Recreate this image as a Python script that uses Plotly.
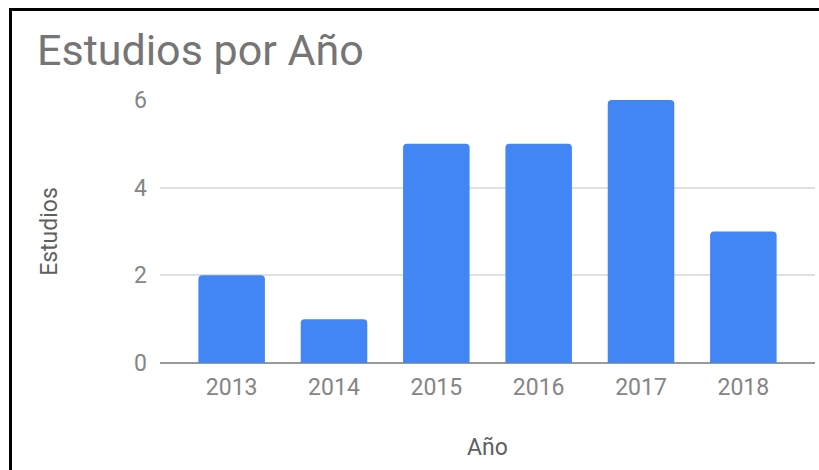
import plotly.graph_objects as go

years = ["2013", "2014", "2015", "2016", "2017", "2018"]
estudios = [2, 1, 5, 5, 6, 3]
y_ticks = [0, 2, 4, 6]

fig = go.Figure()
fig.add_trace(go.Bar(
    x=years, y=estudios,
    marker=dict(color="#4285F4", cornerradius=4, line=dict(width=0)),
    width=0.65,
))

font = "Roboto, Arial, sans-serif"
fig.update_layout(
    width=819, height=470,
    margin=dict(l=160, r=4, t=100, b=107),
    paper_bgcolor="white", plot_bgcolor="white",
    showlegend=False,
    font=dict(family=font, color="#808080"),
    title=dict(text="Estudios por Año", x=37/819, xanchor="left", xref="container",
               y=1 - 50/470, yanchor="middle", yref="container",
               font=dict(size=43, color="#757575", family=font)),
    xaxis=dict(type="category", range=[-0.7, 5.7], showgrid=False,
               showline=False, zeroline=False, ticks="", ticklabelstandoff=8,
               tickfont=dict(size=23, color="#858585"),
               title=dict(text="Año", font=dict(size=23, color="#5f5f5f"), standoff=38)),
    yaxis=dict(range=[0, 6], tickvals=y_ticks, showgrid=True, gridcolor="#e0e0e0",
               gridwidth=2, zeroline=True, zerolinecolor="#999999", zerolinewidth=2,
               showline=False, ticks="", ticklabelstandoff=12,
               tickfont=dict(size=23, color="#858585"),
               title=dict(text="Estudios", font=dict(size=23, color="#5f5f5f"), standoff=70)),
    shapes=[
        dict(type="line", xref="paper", yref="paper", x0=-150/655, x1=1 + 4/655,
             y0=1 + 90.5/263, y1=1 + 90.5/263, line=dict(color="black", width=3)),
        dict(type="line", xref="paper", yref="paper", x0=-149.5/655, x1=-149.5/655,
             y0=1 + 92/263, y1=-110/263, line=dict(color="black", width=3)),
    ],
)

fig.write_html("out.html", config={"displayModeBar": False},
               post_script="document.body.style.margin='0';")
